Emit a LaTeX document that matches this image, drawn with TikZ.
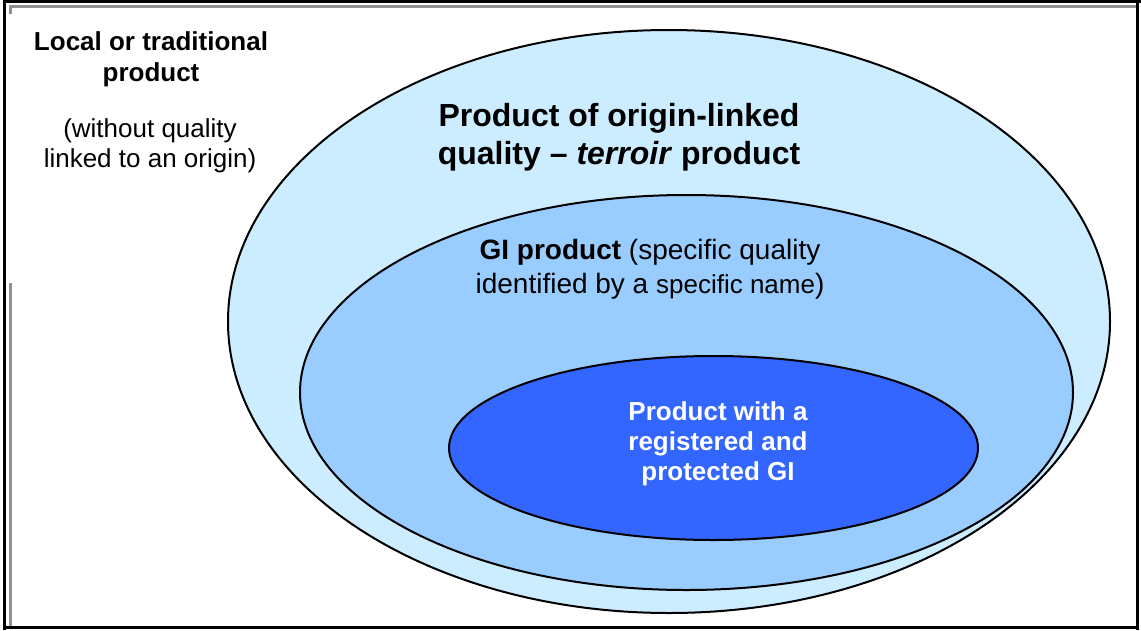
\documentclass[tikz,border=0pt]{standalone}
\usepackage{fontspec}
\setmainfont{Liberation Sans}
\definecolor{outerblue}{HTML}{CCECFF}
\definecolor{midblue}{HTML}{99CCFF}
\definecolor{innerblue}{HTML}{3366FF}
\definecolor{dotgray}{HTML}{909090}
\begin{document}
\begin{tikzpicture}[x=1pt,y=-1pt,
  ring/.style={draw=black,line width=2pt},
  txt/.style={align=center,inner sep=0pt,text=black}]
\useasboundingbox (0,0) rectangle (1141,630);
\fill[white] (0,0) rectangle (1141,630);
% frame
\draw[black,line width=3.5pt] (4.5,1.5) -- (1141,1.5);
\draw[black,line width=3.5pt] (4.5,0) -- (4.5,630);
\draw[black,line width=3.5pt] (1137.5,0) -- (1137.5,630);
\draw[black,line width=3.5pt] (3,627.5) -- (1139,627.5);
\draw[dotgray,line width=3pt] (9,6.5) -- (1136,6.5);
\draw[dotgray,line width=3pt] (10.5,5) -- (10.5,14);
\draw[dotgray,line width=3pt] (10.5,283) -- (10.5,626);
% ellipses
\path[ring,fill=outerblue] (669,321.5) ellipse [x radius=441,y radius=291.5];
\path[ring,fill=midblue] (686.5,392.5) ellipse [x radius=386.5,y radius=197.5];
\path[ring,fill=innerblue] (713.5,448) ellipse [x radius=264.5,y radius=92];
% texts
\node[txt,font=\fontsize{26}{31}\selectfont\bfseries] (local) at (151,59) {Local or traditional\\product};
\node[txt,font=\fontsize{26}{30}\selectfont] (without) at (150,146) {(without quality\\linked to an origin)};
\node[txt,font=\fontsize{32}{38}\selectfont\bfseries] (origin) at (619,137) {Product of origin-linked\\quality -- \textit{terroir} product};
\node[txt,font=\fontsize{28}{34}\selectfont] (gi) at (650,269) {\textbf{GI product} (specific quality\\identified by a {\fontsize{26}{34}\selectfont specific name})};
\node[txt,text=white,font=\fontsize{26}{30}\selectfont\bfseries] (reg) at (718,444) {Product with a\\registered and\\protected GI};
\end{tikzpicture}
\end{document}
